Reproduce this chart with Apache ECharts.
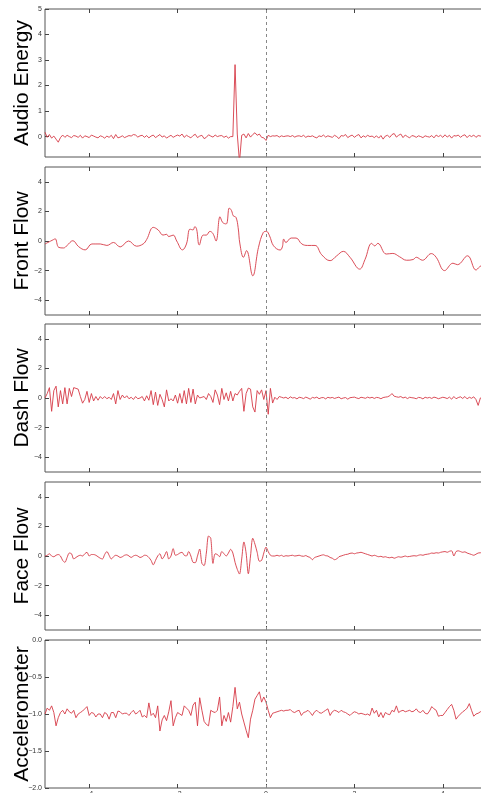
<!DOCTYPE html>
<html>
<head>
<meta charset="utf-8">
<script src="https://cdn.jsdelivr.net/npm/echarts@6/dist/echarts.min.js"></script>
<style>
  html, body { margin: 0; padding: 0; background: #fff; }
  #chart { width: 481px; height: 793px; }
</style>
</head>
<body>
<div id="chart"></div>
<script>
// samples every 0.05 s starting at -5 s
const T0 = -5
const DT = 0.05

const xTicks = [-4, -2, 0, 2, 4]
const audioTicks = [0, 1, 2, 3, 4, 5]
const flowTicks = [-4, -2, 0, 2, 4]
const accelTicks = [-2, -1.5, -1, -0.5, 0]

const audioEnergy = [
  0.17, -0.03, 0.08, -0.06, 0.02, -0.1, -0.22, -0.04, 0.06, -0.03,
  0.05, 0.0, -0.04, 0.04, 0.02, -0.03, 0.05, -0.06, 0.03, 0.0,
  -0.04, 0.06, 0.02, -0.02, -0.05, 0.03, 0.0, -0.06, 0.02, -0.03,
  0.05, -0.08, 0.08, -0.05, -0.02, 0.03, -0.04, 0.0, 0.04, 0.02,
  0.08, 0.06, -0.02, 0.03, 0.05, -0.03, 0.04, -0.05, 0.02, 0.06,
  -0.04, 0.02, 0.08, -0.02, 0.03, -0.06, 0.0, 0.05, -0.03, 0.02,
  0.06, 0.02, 0.1, -0.03, 0.05, 0.0, -0.05, 0.04, 0.09, -0.04,
  0.02, 0.05, -0.08, -0.03, 0.07, 0.02, -0.02, 0.06, 0.0, 0.03,
  0.04, -0.03, 0.02, -0.06, 0.0, 0.0, 2.82, 0.1, -1.0, 0.05,
  0.1, -0.05, 0.12, -0.02, 0.08, 0.15, 0.05, 0.1, -0.03, -0.05,
  -0.15, 0.05, 0.0, 0.03, 0.02, 0.04, -0.02, 0.03, 0.0, 0.02,
  0.03, 0.0, 0.04, -0.02, 0.02, 0.03, 0.0, 0.05, -0.03, 0.02,
  0.0, 0.03, -0.02, -0.05, 0.03, 0.0, 0.06, -0.02, 0.03, 0.0,
  -0.03, 0.05, 0.0, -0.08, 0.04, 0.02, 0.08, -0.04, 0.02, 0.06,
  -0.03, 0.04, 0.08, -0.05, 0.03, -0.02, 0.05, 0.0, 0.02, -0.04,
  0.03, -0.06, 0.04, -0.1, 0.02, 0.05, -0.03, 0.08, 0.12, -0.02,
  0.05, 0.1, -0.04, 0.06, 0.0, -0.05, 0.04, 0.02, -0.03, 0.03,
  0.0, -0.04, 0.03, 0.0, -0.02, 0.04, -0.05, 0.06, 0.0, 0.05,
  -0.03, 0.07, -0.02, 0.05, -0.06, 0.04, 0.02, 0.06, -0.03, 0.04,
  0.07, -0.04, 0.05, 0.0, 0.06, -0.03, 0.04, 0.02, 0.0, 0.03
]

// front flow is smooth, so it is kept as traced points
const frontT = [
  -5.0, -4.81, -4.77, -4.69, -4.58, -4.5, -4.37, -4.24, -4.09, -3.94,
  -3.75, -3.6, -3.45, -3.3, -3.11, -2.93, -2.78, -2.7, -2.55, -2.44,
  -2.33, -2.25, -2.2, -2.1, -2.02, -1.89, -1.8, -1.72, -1.65, -1.61,
  -1.57, -1.51, -1.42, -1.35, -1.27, -1.2, -1.13, -1.04, -0.98, -0.9,
  -0.83, -0.78, -0.74, -0.68, -0.63, -0.59, -0.51, -0.44, -0.3, -0.17,
  -0.06, 0.01, 0.08, 0.17, 0.32, 0.37, 0.4, 0.45, 0.57, 0.68,
  0.81, 0.94, 1.11, 1.26, 1.45, 1.6, 1.75, 1.9, 2.12, 2.24,
  2.39, 2.46, 2.53, 2.72, 2.87, 3.02, 3.18, 3.33, 3.4, 3.54,
  3.74, 3.85, 4.04, 4.23, 4.33, 4.56, 4.75, 4.83, 4.95
]
const frontV = [
  -0.2, 0.09, 0.15, -0.43, -0.47, -0.3, 0.02, -0.38, -0.6, -0.2,
  -0.2, -0.3, -0.1, -0.4, 0.0, -0.35, -0.2, 0.1, 0.92, 0.75,
  0.4, 0.45, 0.3, 0.4, 0.0, -0.6, -0.2, 0.8, 0.75, 0.97,
  0.8, -0.27, 0.4, 0.4, 0.65, 0.5, 0.0, 1.64, 1.25, 1.15,
  2.23, 2.05, 1.7, 1.6, 0.9, -0.2, -1.1, -0.65, -2.35, -0.43,
  0.58, 0.65, 0.35, -0.32, -0.61, -0.4, 0.13, -0.1, 0.2, 0.2,
  -0.2, -0.3, -0.3, -0.93, -1.33, -1.0, -0.7, -1.1, -1.9, -1.25,
  -0.16, -0.33, -0.16, -0.88, -0.84, -1.06, -1.3, -1.25, -1.1, -1.3,
  -0.85, -1.1, -2.0, -1.5, -1.6, -1.0, -1.96, -1.75, -1.5
]

const dashFlow = [
  0.0, 0.3, 0.7, -0.9, 0.5, 0.8, -0.6, 0.5, -0.4, 0.7,
  -0.4, 0.65, 0.1, 0.7, 0.65, 0.6, 0.1, -0.35, -0.1, 0.45,
  -0.3, 0.3, -0.2, 0.1, -0.15, 0.1, -0.05, 0.1, -0.05, 0.05,
  -0.1, 0.3, -0.4, 0.5, -0.1, 0.2, 0.0, 0.15, -0.05, 0.05,
  -0.1, 0.1, -0.05, 0.0, 0.1, -0.2, 0.15, -0.15, 0.5, -0.45,
  0.4, -0.5, 0.25, -0.1, -0.6, 0.55, -0.2, -0.05, -0.2, 0.2,
  -0.35, 0.3, -0.35, 0.5, -0.4, 0.65, -0.3, 0.6, -0.4, 0.2,
  0.0, 0.05, 0.1, -0.1, 0.3, 0.1, -0.3, 0.55, 0.2, -0.45,
  0.65, -0.1, 0.35, -0.2, 0.45, -0.2, 0.3, 0.2, 0.45, 0.65,
  -0.9, 0.3, 0.67, 0.6, -0.6, -0.95, 0.5, 0.25, 0.55, -0.1,
  0.5, -1.1, 0.65, -0.34, 0.05, -0.1, 0.1, 0.05, 0.0, 0.05,
  -0.05, 0.08, 0.0, 0.03, -0.06, 0.05, 0.02, -0.04, 0.06, 0.0,
  -0.08, 0.04, 0.0, 0.06, -0.05, 0.02, 0.03, -0.06, 0.05, 0.0,
  0.04, -0.03, 0.02, 0.06, -0.05, 0.0, 0.03, -0.08, 0.02, 0.04,
  0.06, 0.0, -0.04, 0.05, 0.02, -0.02, 0.06, 0.0, 0.05, -0.03,
  0.04, 0.02, -0.05, 0.03, 0.06, 0.08, 0.15, 0.3, 0.12, 0.08,
  0.05, 0.1, 0.0, 0.06, -0.04, 0.05, 0.02, 0.0, -0.05, 0.04,
  0.02, -0.06, 0.05, 0.0, 0.04, -0.03, 0.06, 0.02, -0.05, 0.0,
  0.05, 0.02, -0.04, 0.06, -0.08, 0.1, -0.05, 0.03, 0.08, -0.03,
  0.1, -0.06, 0.05, -0.02, 0.08, -0.1, -0.5, 0.0, 0.1, 0.05
]

const faceFlow = [
  0.0, 0.05, 0.15, 0.0, -0.05, 0.05, 0.1, 0.0, -0.3, -0.43,
  -0.1, 0.2, 0.15, -0.2, -0.1, 0.0, 0.05, 0.0, 0.15, 0.25,
  0.0, 0.1, 0.1, 0.05, -0.05, -0.15, -0.2, 0.1, 0.3, 0.05,
  -0.2, -0.05, 0.05, 0.0, -0.1, -0.05, 0.05, 0.08, 0.0, -0.1,
  0.0, 0.05, 0.0, -0.1, -0.05, 0.05, 0.03, -0.1, -0.3, -0.6,
  -0.3, 0.0, 0.15, -0.2, 0.0, 0.3, -0.2, 0.0, 0.5, 0.05,
  0.1, 0.2, 0.25, 0.05, 0.0, 0.3, 0.0, -0.43, -0.45, 0.0,
  0.47, -0.5, -0.65, 0.2, 1.35, 1.2, -0.5, 0.15, 0.1, -0.05,
  0.3, 0.15, 0.0, 0.2, 0.45, 0.2, -0.43, -0.9, -1.22, -0.2,
  0.95, 0.2, -1.2, 0.0, 1.2, 0.8, 0.25, -0.35, -0.3, 0.2,
  0.6, 0.3, 0.05, 0.0, 0.0, 0.05, 0.0, 0.05, -0.03, 0.02,
  0.0, 0.03, 0.05, 0.0, 0.02, 0.05, 0.0, -0.02, 0.03, -0.05,
  -0.1, -0.25, -0.1, -0.05, 0.0, 0.05, 0.08, 0.02, 0.0, -0.1,
  -0.15, -0.25, -0.2, -0.05, 0.0, 0.05, 0.1, 0.12, 0.18, 0.2,
  0.15, 0.2, 0.22, 0.25, 0.2, 0.15, 0.1, 0.05, 0.0, 0.05,
  0.0, -0.05, -0.02, -0.08, -0.05, -0.1, -0.12, -0.08, -0.15, -0.1,
  -0.05, -0.08, -0.05, 0.0, -0.05, -0.03, 0.0, 0.02, 0.0, 0.05,
  0.08, 0.05, 0.1, 0.12, 0.15, 0.2, 0.18, 0.22, 0.2, 0.25,
  0.28, 0.3, 0.25, 0.32, 0.35, 0.0, 0.3, 0.35, 0.3, 0.25,
  0.28, 0.2, 0.15, 0.1, 0.05, 0.12, 0.2, 0.22, 0.18, 0.2
]

const accelerometer = [
  -1.0, -0.92, -0.95, -0.89, -0.98, -1.16, -1.05, -0.98, -0.95, -1.0,
  -0.93, -0.97, -0.99, -0.95, -1.05, -1.0, -0.98, -0.96, -0.93, -0.9,
  -1.02, -0.98, -0.99, -1.04, -1.0, -1.0, -1.05, -0.98, -1.0, -1.07,
  -0.98, -0.98, -1.05, -0.96, -0.97, -1.0, -0.99, -0.99, -1.02, -0.98,
  -0.95, -1.0, -0.98, -0.95, -1.04, -1.02, -1.05, -0.85, -1.02, -0.99,
  -1.05, -0.89, -1.23, -1.08, -1.02, -1.09, -0.97, -0.82, -1.16, -1.05,
  -0.98, -1.0, -1.02, -0.89, -0.92, -0.95, -1.02, -0.88, -0.84, -1.16,
  -0.78, -0.95, -1.1, -1.14, -1.16, -0.95, -0.97, -0.98, -0.95, -0.77,
  -1.16, -1.02, -1.1, -0.98, -1.11, -0.9, -0.64, -0.93, -0.84, -1.0,
  -1.11, -1.22, -1.32, -1.07, -0.95, -0.8, -0.75, -0.7, -0.84, -0.77,
  -0.84, -0.95, -1.05, -0.99, -0.98, -0.97, -0.96, -0.95, -0.96, -0.95,
  -0.95, -0.94, -0.97, -0.98, -0.96, -0.95, -1.02, -0.98, -0.97, -0.95,
  -0.98, -1.02, -0.97, -0.95, -0.98, -0.99, -0.97, -0.95, -0.93, -1.02,
  -0.97, -0.95, -0.96, -0.98, -0.95, -0.97, -0.98, -1.0, -1.02, -0.99,
  -0.97, -0.98, -1.0, -0.99, -1.0, -1.01, -1.0, -1.02, -0.92, -0.99,
  -0.95, -1.04, -0.98, -1.05, -0.98, -1.0, -1.01, -0.95, -0.97, -0.89,
  -0.98, -0.96, -0.95, -0.97, -0.96, -0.95, -0.97, -0.96, -0.93, -0.97,
  -0.98, -0.95, -0.99, -1.0, -0.96, -0.9, -0.93, -0.95, -1.03, -1.02,
  -1.02, -0.98, -0.94, -0.9, -0.87, -0.95, -1.07, -1.03, -1.0, -0.97,
  -0.95, -0.92, -0.86, -0.95, -1.03, -1.0, -0.99, -0.97, -0.96, -0.98
]

const pairs = vals => vals.map((v, i) => [+(T0 + i * DT).toFixed(2), v])
const minus = s => String(s).replace('-', '\u2212')

const panels = [
  { name: 'Audio Energy', data: pairs(audioEnergy), min: -0.8, max: 5, ticks: audioTicks, fmt: v => minus(v), smooth: false },
  { name: 'Front Flow', data: frontT.map((t, i) => [t, frontV[i]]), min: -5, max: 5, ticks: flowTicks, fmt: v => minus(v), smooth: 0.4 },
  { name: 'Dash Flow', data: pairs(dashFlow), min: -5, max: 5, ticks: flowTicks, fmt: v => minus(v), smooth: false },
  { name: 'Face Flow', data: pairs(faceFlow), min: -5, max: 5, ticks: flowTicks, fmt: v => minus(v), smooth: 0.3 },
  { name: 'Accelerometer', data: pairs(accelerometer), min: -2, max: 0, ticks: accelTicks, fmt: v => minus(v.toFixed(1)), smooth: false }
]

const tops = [9, 167, 324, 482, 640]
const tickStyle = { inside: true, length: 4, lineStyle: { color: '#444' } }
const noLine = { show: false, onZero: false }

const grid = []
const xAxis = []
const yAxis = []
const series = []

panels.forEach((p, i) => {
  grid.push({
    left: 45, top: tops[i], width: 442, height: 148, outerBoundsMode: 'none',
    show: true, borderColor: '#555', borderWidth: 1, backgroundColor: '#fff'
  })
  const isLast = i === panels.length - 1
  xAxis.push({
    type: 'value', gridIndex: i, min: -5, max: 5, position: 'bottom',
    axisLine: noLine, splitLine: { show: false },
    axisTick: Object.assign({ customValues: xTicks }, tickStyle),
    axisLabel: { show: isLast, customValues: xTicks, formatter: v => minus(v), fontSize: 7, color: '#333', margin: 3 }
  })
  xAxis.push({
    type: 'value', gridIndex: i, min: -5, max: 5, position: 'top',
    axisLine: noLine, splitLine: { show: false },
    axisTick: Object.assign({ customValues: xTicks }, tickStyle),
    axisLabel: { show: false }
  })
  yAxis.push({
    type: 'value', gridIndex: i, min: p.min, max: p.max, position: 'left',
    axisLine: noLine, splitLine: { show: false },
    axisTick: Object.assign({ customValues: p.ticks }, tickStyle),
    axisLabel: { customValues: p.ticks, formatter: p.fmt, fontSize: 7, color: '#333', margin: 3 },
    name: p.name, nameLocation: 'middle', nameGap: 12, nameMoveOverlap: false,
    nameTextStyle: { fontSize: 21, color: '#000', fontFamily: 'Liberation Sans' }
  })
  series.push({
    type: 'line', xAxisIndex: i * 2, yAxisIndex: i, data: p.data,
    showSymbol: false, smooth: p.smooth, clip: true,
    lineStyle: { color: '#d63a46', width: 0.9 },
    markLine: {
      silent: true, symbol: ['none', 'none'], label: { show: false },
      lineStyle: { color: '#888', type: [3, 3], width: 1 },
      data: [{ xAxis: 0 }]
    }
  })
})

const chart = echarts.init(document.getElementById('chart'))
chart.setOption({ animation: false, grid, xAxis, yAxis, series })
</script>
</body>
</html>
